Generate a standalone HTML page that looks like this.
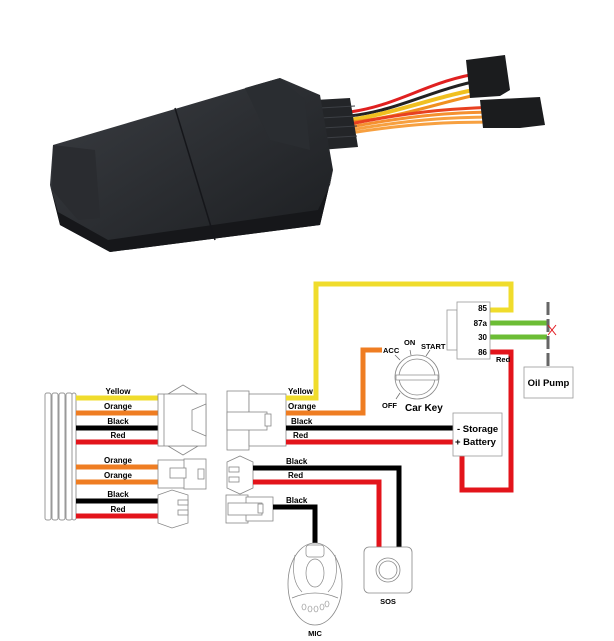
<!DOCTYPE html>
<html><head><meta charset="utf-8"><style>
html,body{margin:0;padding:0;background:#fff;}
svg{display:block;}
text{font-family:"Liberation Sans",sans-serif;font-weight:bold;}
</style></head><body>
<svg width="614" height="641" viewBox="0 0 614 641" xmlns="http://www.w3.org/2000/svg">
<defs>
<linearGradient id="bd" x1="0" y1="0" x2="1" y2="1">
<stop offset="0" stop-color="#3a3d42"/><stop offset="1" stop-color="#1c1e21"/></linearGradient>
</defs>
<!-- product photo -->
<g>
<!-- wires -->
<path d="M350 112 C400 105,430 80,482 73" stroke="#e02020" stroke-width="3" fill="none"/>
<path d="M350 116 C400 110,430 90,482 80" stroke="#222" stroke-width="3" fill="none"/>
<path d="M350 120 C400 112,440 95,485 88" stroke="#f0c020" stroke-width="4" fill="none"/>
<path d="M350 122 C400 118,440 102,485 93" stroke="#f09020" stroke-width="3" fill="none"/>
<path d="M350 124 C420 110,460 108,505 107" stroke="#e84020" stroke-width="3" fill="none"/>
<path d="M350 127 C420 114,460 112,505 112" stroke="#f59030" stroke-width="3" fill="none"/>
<path d="M350 130 C420 118,460 117,505 117" stroke="#f7a040" stroke-width="3" fill="none"/>
<path d="M350 133 C420 122,460 122,505 122" stroke="#f7a040" stroke-width="3" fill="none"/>
<!-- connectors -->
<polygon points="466,60 505,55 510,90 500,96 470,98" fill="#1b1c1e"/>
<polygon points="480,100 540,97 545,125 520,128 483,128" fill="#1b1c1e"/>
<!-- rib -->
<polygon points="315,100 350,98 358,147 320,150" fill="#232528"/>
<g stroke="#3c3f44" stroke-width="1"><line x1="320" y1="108" x2="355" y2="106"/><line x1="321" y1="118" x2="356" y2="116"/><line x1="322" y1="128" x2="357" y2="126"/><line x1="323" y1="138" x2="357" y2="136"/></g>
<!-- body -->
<polygon points="53,145 280,78 320,95 333,170 320,225 110,252 60,225 50,185" fill="url(#bd)"/>
<polygon points="50,185 60,225 110,252 320,225 333,170 330,185 318,210 108,240 58,212" fill="#16171a"/>
<polygon points="53,145 95,150 100,218 78,220 52,190" fill="#2a2c30"/>
<polygon points="245,88 280,78 305,100 310,150 270,140" fill="#2a2d31"/>
<line x1="175" y1="108" x2="215" y2="240" stroke="#15161a" stroke-width="1.5"/>
</g>

<!-- LEFT bundle -->
<g fill="#fff" stroke="#999" stroke-width="1">
<rect x="45" y="393" width="6" height="127" rx="2"/>
<rect x="52" y="393" width="6" height="127" rx="2"/>
<rect x="59" y="393" width="6" height="127" rx="2"/>
<rect x="66" y="393" width="6" height="127" rx="2"/>
<rect x="72" y="393" width="4" height="127" rx="2"/>
</g>
<g stroke-width="5" fill="none">
<line x1="76" y1="398" x2="158" y2="398" stroke="#f0dc2c"/>
<line x1="76" y1="413" x2="158" y2="413" stroke="#ef7d22"/>
<line x1="76" y1="428" x2="158" y2="428" stroke="#000"/>
<line x1="76" y1="442" x2="158" y2="442" stroke="#e3141b"/>
<line x1="76" y1="467" x2="158" y2="467" stroke="#ef7d22"/>
<line x1="76" y1="482" x2="158" y2="482" stroke="#ef7d22"/>
<line x1="76" y1="501" x2="158" y2="501" stroke="#000"/>
<line x1="76" y1="516" x2="158" y2="516" stroke="#e3141b"/>
</g>
<g font-size="8" text-anchor="middle" fill="#000">
<text x="118" y="394">Yellow</text><text x="118" y="409">Orange</text><text x="118" y="424">Black</text><text x="118" y="438">Red</text>
<text x="118" y="463">Orange</text><text x="118" y="478">Orange</text><text x="118" y="497">Black</text><text x="118" y="512">Red</text>
</g>
<!-- left connectors -->
<g fill="#fff" stroke="#888" stroke-width="0.8">
<polygon points="168,394 183,385 198,394"/><polygon points="168,446 183,455 198,446"/>
<rect x="158" y="394" width="48" height="52"/><line x1="164" y1="394" x2="164" y2="446"/>
<polygon points="192,410 206,404 206,436 192,430"/>
<rect x="158" y="460" width="28" height="28"/><rect x="184" y="459" width="22" height="30"/>
<rect x="170" y="468" width="16" height="10"/><rect x="198" y="469" width="6" height="10"/>
<polygon points="158,495 172,490 188,495 188,523 172,528 158,523"/>
<rect x="178" y="500" width="10" height="5"/><rect x="178" y="510" width="10" height="5"/>
</g>
<!-- right connectors -->
<g fill="#fff" stroke="#888" stroke-width="0.8">
<rect x="227" y="391" width="22" height="59"/><rect x="249" y="394" width="37" height="52"/>
<rect x="227" y="412" width="40" height="18"/><rect x="265" y="414" width="6" height="12"/>
<polygon points="227,462 240,456 253,462 253,488 240,494 227,488"/>
<rect x="229" y="467" width="10" height="5"/><rect x="229" y="477" width="10" height="5"/>
<rect x="226" y="495" width="22" height="28"/><rect x="246" y="497" width="27" height="24"/>
<rect x="228" y="503" width="34" height="12"/><rect x="258" y="504" width="5" height="9"/>
</g>
<!-- wires right -->
<g stroke-width="5" fill="none" stroke-linejoin="miter">
<polyline points="286,398 316,398 316,284 511,284 511,310 490,310" stroke="#f0dc2c"/>
<polyline points="286,413 363,413 363,350 382,350" stroke="#ef7d22"/>
<line x1="286" y1="428" x2="453" y2="428" stroke="#000"/>
<line x1="286" y1="442" x2="453" y2="442" stroke="#e3141b"/>
<polyline points="490,352 511,352 511,490 462,490 462,456" stroke="#e3141b"/>
<polyline points="253,468 399,468 399,548" stroke="#000"/>
<polyline points="253,482 379,482 379,548" stroke="#e3141b"/>
<polyline points="273,507 315,507 315,547" stroke="#000"/>
<line x1="490" y1="323" x2="547" y2="323" stroke="#6cbd35"/>
<line x1="490" y1="337" x2="547" y2="337" stroke="#6cbd35"/>
</g>
<g font-size="8" fill="#000">
<text x="288" y="394">Yellow</text><text x="288" y="409">Orange</text><text x="291" y="424">Black</text><text x="293" y="438">Red</text>
<text x="286" y="464">Black</text><text x="288" y="478">Red</text><text x="286" y="503">Black</text>
<text x="496" y="362" font-weight="normal" font-size="7.5">Red</text>
</g>
<!-- relay -->
<rect x="447" y="310" width="10" height="40" fill="#fff" stroke="#999" stroke-width="0.8"/>
<rect x="457" y="302" width="33" height="57" fill="#fff" stroke="#999" stroke-width="0.8"/>
<g font-size="8" fill="#000" text-anchor="end" font-weight="normal"><text x="487" y="311">85</text><text x="487" y="326">87a</text><text x="487" y="340">30</text><text x="487" y="355">86</text></g>
<!-- dashed pump line -->
<line x1="548" y1="302" x2="548" y2="367" stroke="#666" stroke-width="3" stroke-dasharray="13,4"/>
<line x1="548" y1="325" x2="556" y2="335" stroke="#e3141b" stroke-width="1"/><line x1="556" y1="325" x2="548" y2="335" stroke="#e3141b" stroke-width="1"/>
<rect x="524" y="367" width="49" height="31" fill="#fff" stroke="#999" stroke-width="0.8"/>
<text x="548.5" y="386" font-size="9.5" text-anchor="middle">Oil Pump</text>
<!-- key -->
<circle cx="417" cy="377" r="22" fill="#fff" stroke="#888" stroke-width="0.8"/>
<circle cx="417" cy="377" r="18" fill="#fff" stroke="#888" stroke-width="0.8"/>
<rect x="396" y="375" width="42" height="5" fill="#fff" stroke="#888" stroke-width="0.7"/>
<g stroke="#666" stroke-width="0.7"><line x1="400" y1="360" x2="395" y2="355"/><line x1="411" y1="355" x2="410" y2="350"/><line x1="426" y1="356" x2="430" y2="350"/><line x1="400" y1="393" x2="396" y2="399"/></g>
<g font-size="7.5" font-weight="normal" fill="#000"><text x="383" y="353">ACC</text><text x="404" y="345">ON</text><text x="421" y="349">START</text><text x="382" y="408">OFF</text></g>
<text x="405" y="411" font-size="10">Car Key</text>
<!-- battery -->
<rect x="453" y="413" width="49" height="43" fill="#fff" stroke="#999" stroke-width="0.8"/>
<text x="457" y="432" font-size="9.5">- Storage</text>
<text x="455" y="445" font-size="9.5">+ Battery</text>
<!-- SOS -->
<rect x="364" y="547" width="48" height="46" rx="5" fill="#fff" stroke="#888" stroke-width="0.8"/>
<circle cx="388" cy="570" r="12" fill="#fff" stroke="#888" stroke-width="0.8"/>
<circle cx="388" cy="570" r="9" fill="#fff" stroke="#888" stroke-width="0.8"/>
<text x="388" y="604" font-size="7.5" text-anchor="middle">SOS</text>
<!-- MIC -->
<ellipse cx="315" cy="584" rx="27" ry="41" fill="#fff" stroke="#888" stroke-width="0.8"/>
<rect x="306" y="545" width="18" height="12" rx="3" fill="#fff" stroke="#888" stroke-width="0.7"/>
<ellipse cx="315" cy="573" rx="9" ry="14" fill="#fff" stroke="#888" stroke-width="0.7"/>
<path d="M295 555 Q290 580 302 592 M335 555 Q340 580 328 592 M292 598 Q315 588 338 598" stroke="#888" stroke-width="0.7" fill="none"/>
<g fill="#fff" stroke="#888" stroke-width="0.6"><ellipse cx="304" cy="607" rx="2" ry="3"/><ellipse cx="310" cy="609" rx="2" ry="3"/><ellipse cx="316" cy="609" rx="2" ry="3"/><ellipse cx="322" cy="607" rx="2" ry="3"/><ellipse cx="327" cy="604" rx="2" ry="3"/></g>
<text x="315" y="636" font-size="7.5" text-anchor="middle">MIC</text>
</svg>
</body></html>
